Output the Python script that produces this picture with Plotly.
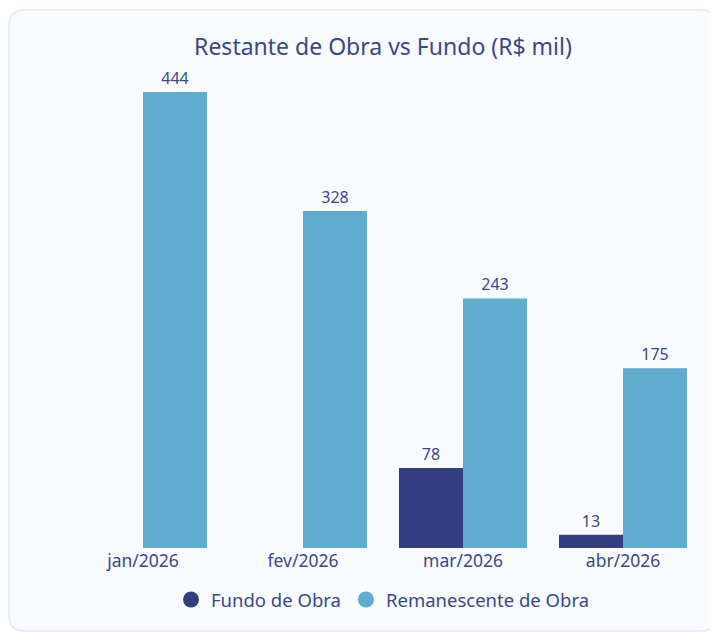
import plotly.graph_objects as go

categories = ["jan/2026", "fev/2026", "mar/2026", "abr/2026"]
fundo_obra = [0, 0, 78, 13]
remanescente_obra = [444, 328, 243, 175]

DARK = "#343e82"
LIGHT = "#5eacce"
TXT = "#3b4787"
FONT = "Noto Sans"

# page has an 8px body margin, so figure pixel = page pixel - 8
W, H = 710, 625
ML, MR, MT, MB = 55, 15, 62, 85
PW, PH = W - ML - MR, H - MT - MB
BASE = H - MB


def px2paper(x, y):
    return (x - ML) / PW, (BASE - y) / PH


def rounded_rect(x0, y0, x1, y1, r):
    def p(x, y):
        a, b = px2paper(x, y)
        return f"{a:.5f},{b:.5f}"
    return (f"M {p(x0 + r, y0)} L {p(x1 - r, y0)} Q {p(x1, y0)} {p(x1, y0 + r)} "
            f"L {p(x1, y1 - r)} Q {p(x1, y1)} {p(x1 - r, y1)} "
            f"L {p(x0 + r, y1)} Q {p(x0, y1)} {p(x0, y1 - r)} "
            f"L {p(x0, y0 + r)} Q {p(x0, y0)} {p(x0 + r, y0)} Z")


fig = go.Figure()
fig.add_trace(go.Bar(
    name="Fundo de Obra", x=categories, y=fundo_obra,
    text=[str(v) if v else "" for v in fundo_obra],
    textposition="outside", marker=dict(color=DARK, line=dict(width=0)),
    textfont=dict(color=TXT, size=16, family=FONT), cliponaxis=False,
    showlegend=False,
))
fig.add_trace(go.Bar(
    name="Remanescente de Obra", x=categories, y=remanescente_obra,
    text=[str(v) for v in remanescente_obra],
    textposition="outside", marker=dict(color=LIGHT, line=dict(width=0)),
    textfont=dict(color=TXT, size=16, family=FONT), cliponaxis=False,
    showlegend=False,
))
for nm, col in [("Fundo de Obra", DARK), ("Remanescente de Obra", LIGHT)]:
    fig.add_trace(go.Scatter(
        x=[None], y=[None], mode="markers", name=nm,
        marker=dict(color=col, size=18, symbol="circle"),
    ))

fig.add_shape(type="path", xref="paper", yref="paper", layer="below",
              path=rounded_rect(1, 2, 709, 623, 16),
              fillcolor="#f8fbff", line=dict(color="#e2e8f2", width=1.5))

fig.update_layout(
    width=W, height=H,
    margin=dict(l=ML, r=MR, t=MT, b=MB),
    paper_bgcolor="white", plot_bgcolor="rgba(0,0,0,0)",
    barmode="group", bargap=0.2, bargroupgap=0,
    font=dict(family=FONT, color=TXT),
    title=dict(text="Restante de Obra vs Fundo (R$ mil)", x=0.5, xref="paper",
               y=(H - 39) / H, yanchor="middle",
               font=dict(size=23, color=TXT, family=FONT)),
    xaxis=dict(showgrid=False, showline=False, zeroline=False, ticks="",
               tickfont=dict(size=17.5, color=TXT, family=FONT)),
    yaxis=dict(visible=False, range=[0, 465.4], showgrid=False, zeroline=False),
    legend=dict(orientation="h", x=0.5, xanchor="center", y=(BASE - 592) / PH,
                yanchor="middle", font=dict(size=18.5, color=TXT, family=FONT),
                bgcolor="rgba(0,0,0,0)", itemsizing="trace"),
)

fig.write_html("out.html")
